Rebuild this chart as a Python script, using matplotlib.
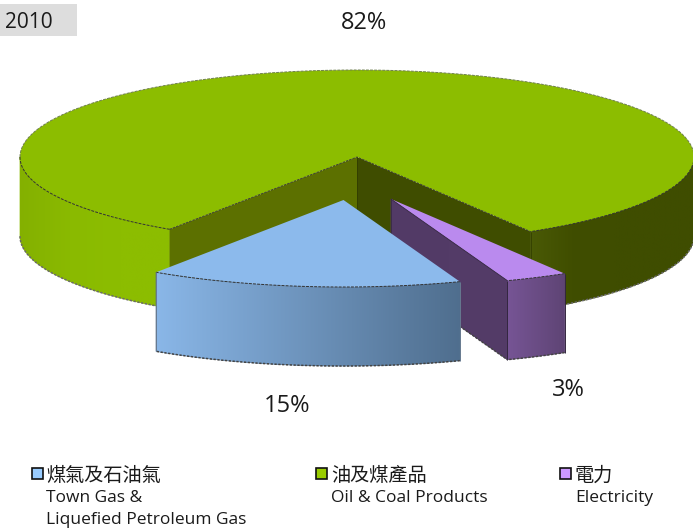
import numpy as np
import matplotlib
matplotlib.use("Agg")
import matplotlib.pyplot as plt
from matplotlib.patches import Wedge, Polygon, Rectangle
from matplotlib.transforms import Affine2D
from matplotlib.colors import LinearSegmentedColormap

# ---- data ----
year_label = "2010"
categories_zh = ["煤氣及石油氣", "油及煤產品", "電力"]
categories_en = ["Town Gas &\nLiquefied Petroleum Gas", "Oil & Coal Products", "Electricity"]
shares = [15, 82, 3]
share_labels = ["15%", "82%", "3%"]

# ---- styles ----
top_colors = ["#8CBAEC", "#8CBD00", "#BA8AEE"]
FONT = ["Open Sans", "Noto Sans CJK TC", "DejaVu Sans"]
TEXT = "#1A1A1A"
RX, RY, DEPTH = 337.0, 87.0, 79.0
CENTER = (357.0, 157.0)
EXPLODE = {0: (-13.5, 43.0), 1: (0.0, 0.0), 2: (34.0, 42.0)}
START = 59.0  # angle of the first slice edge, degrees clockwise on screen

fig = plt.figure(figsize=(6.93, 5.29), dpi=100)
ax = fig.add_axes([0, 0, 1, 1])
ax.set_xlim(0, 693)
ax.set_ylim(529, 0)
ax.axis("off")

# slice angles from the values: electricity, gas, then oil going round
order = [2, 0, 1]
angles = {}
a = START
for i in order:
    span = shares[i] / sum(shares) * 360.0
    angles[i] = (a, a + span)
    a += span


def pt(i, deg):
    cx = CENTER[0] + EXPLODE[i][0]
    cy = CENTER[1] + EXPLODE[i][1]
    t = np.radians(deg)
    return np.array([cx + RX * np.cos(t), cy + RY * np.sin(t)])


def hub(i):
    return np.array([CENTER[0] + EXPLODE[i][0], CENTER[1] + EXPLODE[i][1]])


def arc_points(i, a0, a1, n=120):
    return np.array([pt(i, d) for d in np.linspace(a0, a1, n)])


def side_poly(i, a0, a1):
    top = arc_points(i, a0, a1)
    bottom = top[::-1] + [0, DEPTH]
    return np.vstack([top, bottom])


def wall_poly(i, deg):
    h, p = hub(i), pt(i, deg)
    return np.array([h, p, p + [0, DEPTH], h + [0, DEPTH]])


def gradient_fill(poly, colors, z):
    """Fill a polygon with a left-to-right gradient, over a solid base of the same shape."""
    ax.add_patch(Polygon(poly, closed=True, fc=colors[-1], ec=colors[-1], lw=0.5, zorder=z - 0.1))
    x0, x1 = poly[:, 0].min() - 1, poly[:, 0].max() + 1
    cmap = LinearSegmentedColormap.from_list("g", colors)
    im = ax.imshow(np.linspace(0, 1, 256)[None, :], cmap=cmap, aspect="auto",
                   extent=[x0, x1, poly[:, 1].max() + 1, poly[:, 1].min() - 1], zorder=z,
                   interpolation="bilinear")
    clip = Polygon(poly, closed=True, transform=ax.transData, fc="none", ec="none")
    ax.add_patch(clip)
    im.set_clip_path(clip)
    ax.set_xlim(0, 693)
    ax.set_ylim(529, 0)


DASH = (0, (3, 1.2))
DOT = (0, (1.5, 1))


def edge(xy, z, lw=0.7, color="#333333", ls=DASH):
    xy = np.asarray(xy)
    ax.plot(xy[:, 0], xy[:, 1], color=color, lw=lw, ls=ls, zorder=z, solid_capstyle="butt")


def top_wedge(i, z):
    a0, a1 = angles[i]
    h = hub(i)
    tr = Affine2D().scale(RX, RY).translate(h[0], h[1]) + ax.transData
    ax.add_patch(Wedge((0, 0), 1, a0, a1, fc=top_colors[i], ec="none", transform=tr, zorder=z))


# ---- oil slice ----
oa0, oa1 = angles[1]
gradient_fill(side_poly(1, oa0, 180), ["#84B000", "#8ABA00", "#8CBD00", "#8CBD00"], 2)
gradient_fill(side_poly(1, 360, oa1), ["#4A5A06", "#404E00", "#3F4D00", "#3F4D00", "#3F4D00"], 2)
edge(arc_points(1, oa0, 180) + [0, DEPTH], 3, lw=1.1, color="#6A6A6A", ls=DOT)
edge(arc_points(1, 360, oa1) + [0, DEPTH], 3, lw=1.1, color="#6A6A6A", ls=DOT)
ax.add_patch(Polygon(wall_poly(1, oa0), fc="#5C7000", ec="none", zorder=3))
ax.add_patch(Polygon(wall_poly(1, oa1 % 360), fc="#3F4D00", ec="none", zorder=3))
top_wedge(1, 4)
edge(arc_points(1, 180, 360), 5, color="#6F7F50", lw=0.7)
edge(arc_points(1, oa0, 180), 5, lw=0.7)
edge(arc_points(1, 360, oa1), 5, lw=0.7)
edge([pt(1, oa0), hub(1), pt(1, oa1)], 5, lw=0.6)
edge([hub(1), hub(1) + [0, DEPTH]], 5, color="#2F3A00", ls="-", lw=0.5)
edge([pt(1, oa1), pt(1, oa1) + [0, DEPTH]], 5, color="#2F3A00", ls="-", lw=0.5)

# ---- electricity slice ----
ea0, ea1 = angles[2]
gradient_fill(wall_poly(2, ea1), ["#523A66", "#543C68"], 6)
gradient_fill(side_poly(2, ea0, ea1), ["#775596", "#5E4474"], 7)
top_wedge(2, 8)
edge([hub(2), pt(2, ea1)], 9, color="#33263F", ls="-", lw=0.6)
edge([hub(2), hub(2) + [0, DEPTH * 0.9]], 9, color="#33263F", ls="-", lw=0.5)
for d in (ea0, ea1):
    edge([pt(2, d), pt(2, d) + [0, DEPTH]], 9, color="#33263F", ls="-", lw=0.7)
edge(arc_points(2, ea0, ea1), 9)
edge(arc_points(2, ea0, ea1) + [0, DEPTH], 9, lw=1.1, color="#444444", ls=DOT)
edge([hub(2) + [0, DEPTH], pt(2, ea1) + [0, DEPTH]], 6.5, lw=1.1, color="#444444", ls=DOT)

# ---- gas slice ----
ga0, ga1 = angles[0]
gradient_fill(side_poly(0, ga0, ga1), ["#8AB7E8", "#4F6E8E"], 10)
top_wedge(0, 12)
edge(arc_points(0, ga0, ga1), 13)
edge(arc_points(0, ga0, ga1) + [0, DEPTH], 13, lw=1.1, color="#444444", ls=DOT)
for d in (ga0, ga1):
    edge([pt(0, d), pt(0, d) + [0, DEPTH]], 13, color="#66798F", ls="-", lw=0.7)

# ---- labels ----
ax.add_patch(Rectangle((0, 4), 77, 32, fc="#DDDDDD", ec="none", zorder=1))
ax.text(5, 22, year_label, fontsize=15, color=TEXT, family=FONT, va="center", ha="left", zorder=20)
label_xy = [(287, 406), (364, 23), (568, 390)]
for s, (x, y) in zip(share_labels, label_xy):
    ax.text(x, y, s, fontsize=17, color=TEXT, family=FONT, va="center", ha="center", zorder=20)

square_x = [32, 316, 560]
text_x = [46, 331, 575]
legend_colors = ["#99CCFF", "#99CC00", "#CC99FF"]
for i in range(3):
    ax.add_patch(Rectangle((square_x[i], 468), 10.5, 10.5, fc=legend_colors[i], ec="#111111", lw=1.2, zorder=20))
    ax.text(text_x[i], 475, categories_zh[i], fontsize=13.8, color=TEXT,
            family=["Noto Sans CJK TC", "DejaVu Sans"], va="center", ha="left", zorder=20)
    for j, line in enumerate(categories_en[i].split("\n")):
        ax.text(text_x[i], 498 + 22 * j, line, fontsize=12.5, color=TEXT, family=FONT,
                va="center", ha="left", zorder=20)

fig.savefig("out.png", dpi=100, facecolor="white")
